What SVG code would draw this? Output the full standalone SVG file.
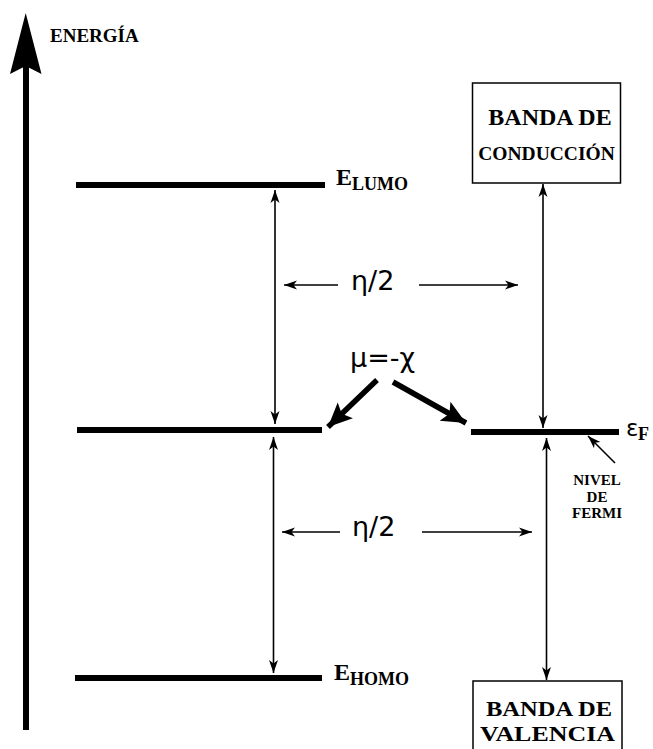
<svg xmlns="http://www.w3.org/2000/svg" width="653" height="749" viewBox="0 0 653 749">
<style>
.lvl{stroke:#000;stroke-width:6;fill:none}
.thin{stroke:#000;stroke-width:1.6;fill:none}
.thick{stroke:#000;stroke-width:5.5;fill:none}
.box{fill:#fff;stroke:#000;stroke-width:1.5}
.ser{font-family:"Liberation Serif","Times New Roman",serif;font-weight:bold;fill:#000}
.sym{font-family:"DejaVu Sans",sans-serif;fill:#000}
</style>
<defs>
<marker id="ah" markerUnits="userSpaceOnUse" markerWidth="14" markerHeight="10" refX="13" refY="5" orient="auto-start-reverse" viewBox="0 0 14 10">
<path d="M0,0.5 L13,5 L0,9.5 L3.5,5 z" fill="#000"/>
</marker>
<marker id="ahb" markerUnits="userSpaceOnUse" markerWidth="26" markerHeight="24" refX="24" refY="12" orient="auto" viewBox="0 0 26 24">
<path d="M0,1 L24,12 L0,23 L5,12 z" fill="#000"/>
</marker>
</defs>

<g id="energy-axis">
<line x1="26" y1="60" x2="26" y2="730" stroke="#000" stroke-width="6"/>
<path d="M25.7,13 L41.5,74 L25.7,66 L10,74 z" fill="#000"/>
<text class="ser" x="50" y="42" font-size="19">ENERGÍA</text>
</g>

<g id="lumo">
<line class="lvl" x1="76" y1="185" x2="325" y2="185"/>
<text class="ser" x="336" y="185" font-size="24">E<tspan font-size="18" dy="5">LUMO</tspan></text>
</g>

<g id="mu-level">
<line class="lvl" x1="77" y1="430" x2="322" y2="430"/>
</g>

<g id="homo">
<line class="lvl" x1="75" y1="678" x2="322" y2="678"/>
<text class="ser" x="334" y="680" font-size="24">E<tspan font-size="18" dy="5">HOMO</tspan></text>
</g>

<g id="fermi-level">
<line class="lvl" x1="471" y1="432" x2="619" y2="432"/>
<text class="sym" x="626" y="436" font-size="23">ε</text>
<text class="ser" x="638" y="440" font-size="18">F</text>
</g>

<g id="conduction-band">
<rect class="box" x="472.5" y="83" width="148" height="100"/>
<text class="ser" x="550" y="125" font-size="24" text-anchor="middle">BANDA DE</text>
<text class="ser" x="546.5" y="160" font-size="19.5" text-anchor="middle">CONDUCCIÓN</text>
</g>

<g id="valence-band">
<rect class="box" x="473" y="681" width="149" height="80"/>
<text class="ser" x="486" y="716" font-size="21" textLength="126" lengthAdjust="spacingAndGlyphs">BANDA DE</text>
<text class="ser" x="480" y="741" font-size="22" textLength="135" lengthAdjust="spacingAndGlyphs">VALENCIA</text>
</g>

<g id="fermi-label">
<text class="ser" font-size="15" text-anchor="middle"><tspan x="597" y="485">NIVEL</tspan><tspan x="597" y="502">DE</tspan><tspan x="597" y="518">FERMI</tspan></text>
</g>

<g id="eta-upper">
<text class="sym" x="351" y="290" font-size="27">η/2</text>
</g>
<g id="eta-lower">
<text class="sym" x="352" y="536" font-size="27">η/2</text>
</g>
<g id="mu-label">
<text class="sym" x="350" y="367" font-size="27">μ=-χ</text>
</g>

<g id="connectors">
<line class="thin" x1="275" y1="190" x2="275" y2="424" marker-start="url(#ah)" marker-end="url(#ah)"/>
<line class="thin" x1="273.5" y1="437" x2="273.5" y2="673" marker-start="url(#ah)" marker-end="url(#ah)"/>
<line class="thin" x1="543" y1="184" x2="543" y2="428" marker-start="url(#ah)" marker-end="url(#ah)"/>
<line class="thin" x1="546.5" y1="438" x2="546.5" y2="680" marker-start="url(#ah)" marker-end="url(#ah)"/>
<line class="thin" x1="338" y1="285" x2="284" y2="285" marker-end="url(#ah)"/>
<line class="thin" x1="419" y1="285" x2="518" y2="285" marker-end="url(#ah)"/>
<line class="thin" x1="340" y1="532" x2="282" y2="532" marker-end="url(#ah)"/>
<line class="thin" x1="422" y1="532" x2="532" y2="532" marker-end="url(#ah)"/>
<line class="thin" x1="615" y1="463" x2="588" y2="436" marker-end="url(#ah)"/>
<line class="thick" x1="377" y1="380" x2="328" y2="427" marker-end="url(#ahb)"/>
<line class="thick" x1="393" y1="382" x2="466" y2="423" marker-end="url(#ahb)"/>
</g>
</svg>
